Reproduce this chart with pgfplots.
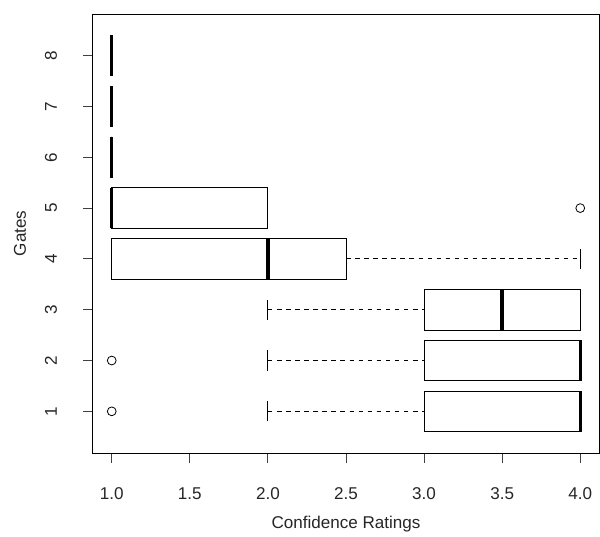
\documentclass[border=0pt]{standalone}
\usepackage{pgfplots}
\pgfplotsset{compat=1.18}
\usepgfplotslibrary{statistics}
\usepackage{fontspec}
\setmainfont{Liberation Sans}
\newcommand{\chartfont}{\fontsize{12.8}{15}\selectfont}
\begin{document}
\begin{tikzpicture}
\begin{axis}[
  scale only axis,
  width=379.5pt, height=329.25pt,
  xmin=0.88, xmax=4.12, ymin=0.18, ymax=8.82,
  axis line style={black, line width=0.75pt},
  tick pos=left,
  tick align=outside,
  major tick length=7.5pt,
  tick style={black!75, line width=0.75pt},
  xtick={1,1.5,2,2.5,3,3.5,4},
  xticklabels={1.0,1.5,2.0,2.5,3.0,3.5,4.0},
  ytick={1,2,3,4,5,6,7,8},
  yticklabels={1,2,3,4,5,6,7,8},
  xticklabel style={anchor=center, yshift=-23.25pt, font=\chartfont, text=black!85},
  yticklabel style={anchor=center, xshift=-24pt, rotate=90, font=\chartfont, text=black!85},
  xlabel={Confidence Ratings}, ylabel={Gates},
  every axis x label/.style={at={(axis description cs:0.5,-0.1617)}, anchor=center, font=\chartfont, text=black!85},
  every axis y label/.style={at={(axis description cs:-0.1443,0.5)}, anchor=center, rotate=90, font=\chartfont, text=black!85},
  boxplot/draw direction=x,
  boxplot/box extend=0.8,
  boxplot/whisker extend=0.4,
  boxplot/every box/.style={draw=black, fill=white, line width=0.75pt},
  boxplot/every median/.style={draw=black, line width=2.6pt},
  boxplot/draw/lower whisker/.code={%
    \draw[black, line width=0.75pt, dash pattern=on 3.4pt off 3.4pt]
      (boxplot box cs:\pgfplotsboxplotvalue{lower whisker},0.5) -- (boxplot box cs:\pgfplotsboxplotvalue{lower quartile},0.5);
    \draw[black, line width=0.75pt]
      (boxplot whisker cs:\pgfplotsboxplotvalue{lower whisker},0) -- (boxplot whisker cs:\pgfplotsboxplotvalue{lower whisker},1);
  },
  boxplot/draw/upper whisker/.code={%
    \draw[black, line width=0.75pt, dash pattern=on 3.4pt off 3.4pt]
      (boxplot box cs:\pgfplotsboxplotvalue{upper quartile},0.5) -- (boxplot box cs:\pgfplotsboxplotvalue{upper whisker},0.5);
    \draw[black, line width=0.75pt]
      (boxplot whisker cs:\pgfplotsboxplotvalue{upper whisker},0) -- (boxplot whisker cs:\pgfplotsboxplotvalue{upper whisker},1);
  },
  clip=false,
]
% Gate 1
\addplot[black, mark=o, mark size=3.3pt, mark options={line width=0.6pt, black, solid},
  boxplot prepared={draw position=1, lower whisker=2, lower quartile=3, median=4, upper quartile=4, upper whisker=4}]
  table[row sep=\\, y index=0]{data\\ 1\\};
% Gate 2
\addplot[black, mark=o, mark size=3.3pt, mark options={line width=0.6pt, black, solid},
  boxplot prepared={draw position=2, lower whisker=2, lower quartile=3, median=4, upper quartile=4, upper whisker=4}]
  table[row sep=\\, y index=0]{data\\ 1\\};
% Gate 3
\addplot[black,
  boxplot prepared={draw position=3, lower whisker=2, lower quartile=3, median=3.5, upper quartile=4, upper whisker=4}]
  coordinates {};
% Gate 4
\addplot[black,
  boxplot prepared={draw position=4, lower whisker=1, lower quartile=1, median=2, upper quartile=2.5, upper whisker=4}]
  coordinates {};
% Gate 5
\addplot[black, mark=o, mark size=3.3pt, mark options={line width=0.6pt, black, solid},
  boxplot prepared={draw position=5, lower whisker=1, lower quartile=1, median=1, upper quartile=2, upper whisker=2}]
  table[row sep=\\, y index=0]{data\\ 4\\};
% Gate 6
\addplot[black,
  boxplot prepared={draw position=6, lower whisker=1, lower quartile=1, median=1, upper quartile=1, upper whisker=1}]
  coordinates {};
% Gate 7
\addplot[black,
  boxplot prepared={draw position=7, lower whisker=1, lower quartile=1, median=1, upper quartile=1, upper whisker=1}]
  coordinates {};
% Gate 8
\addplot[black,
  boxplot prepared={draw position=8, lower whisker=1, lower quartile=1, median=1, upper quartile=1, upper whisker=1}]
  coordinates {};
\end{axis}
\pgfresetboundingbox
\useasboundingbox (-69.75pt,-62.25pt) rectangle (380.25pt,339.75pt);
\end{tikzpicture}
\end{document}
